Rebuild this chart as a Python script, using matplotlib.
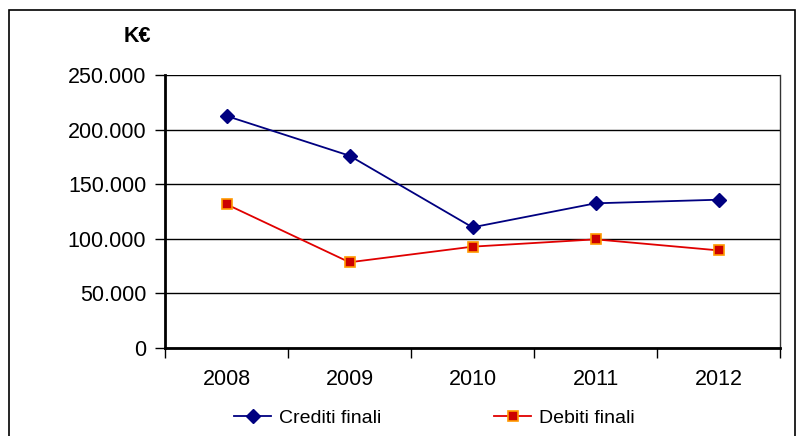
import matplotlib.pyplot as plt
from matplotlib.patches import Rectangle
from matplotlib.ticker import FuncFormatter, FixedLocator

anni = ["2008", "2009", "2010", "2011", "2012"]
crediti = [212500, 176100, 110500, 132500, 135800]
debiti = [131600, 78500, 92800, 99500, 89400]

plt.rcParams["font.family"] = ["Liberation Sans", "DejaVu Sans"]

fig = plt.figure(figsize=(7.97, 4.36), dpi=100)
ax = fig.add_axes([165 / 797, 1 - 348 / 436, 615 / 797, 273 / 436])

x = range(len(anni))
ax.plot(x, crediti, color="#000080", lw=1.3, marker="D", ms=7,
        mfc="#000080", mec="#000080", label="Crediti finali", zorder=3)
ax.plot(x, debiti, color="#E00000", lw=1.3, marker="s", ms=7.5,
        mfc="#CC0000", mec="#FF9900", mew=1.2, label="Debiti finali", zorder=3)

ax.set_xlim(-0.5, len(anni) - 0.5)
ax.set_ylim(0, 250000)
ax.set_yticks(range(0, 250001, 50000))
ax.yaxis.set_major_formatter(FuncFormatter(lambda v, p: f"{int(v):,}".replace(",", ".")))
ax.set_xticks(list(x))
ax.set_xticklabels(anni)
ax.xaxis.set_minor_locator(FixedLocator([i - 0.5 for i in range(len(anni) + 1)]))
ax.tick_params(axis="x", which="major", length=0, pad=15, labelsize=15.5)
ax.tick_params(axis="x", which="minor", length=7, width=1, direction="out")
ax.tick_params(axis="y", length=7, width=1, direction="out", pad=6.5, labelsize=15.5)

ax.grid(axis="y", color="black", lw=1)
for s in ["left", "bottom"]:
    ax.spines[s].set_linewidth(2)
ax.spines["top"].set_visible(False)
ax.spines["right"].set_linewidth(1)
ax.spines["right"].set_color("#333333")

fig.text(137 / 797, 1 - 36 / 436, "K€", fontsize=15.5, fontweight="bold",
         ha="center", va="center")

fig.legend(loc="center", bbox_to_anchor=(0.545, 1 - 418 / 436), ncol=2,
           frameon=False, fontsize=14, handlelength=1.9, columnspacing=5.8,
           handletextpad=0.4)

fig.patches.append(Rectangle((9 / 797, -0.05), 786 / 797, 1.05 - 10 / 436,
                             transform=fig.transFigure, fill=False,
                             edgecolor="black", lw=1.2))

fig.savefig("out.png", dpi=100)
